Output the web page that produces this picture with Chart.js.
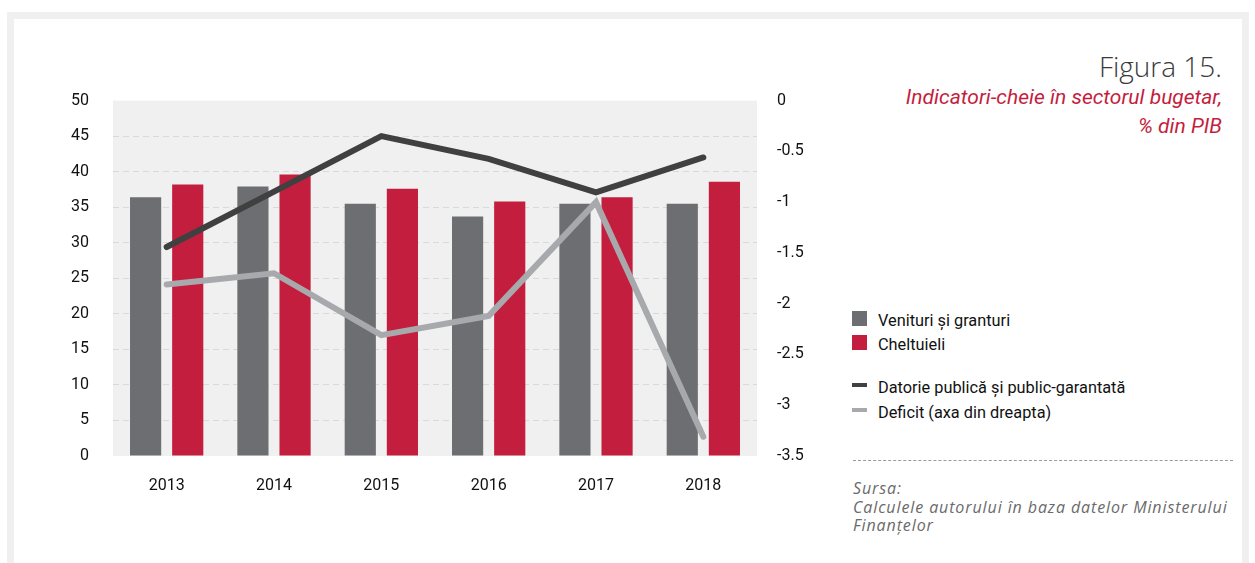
<!DOCTYPE html>
<html>
<head>
<meta charset="utf-8">
<script src="https://cdn.jsdelivr.net/npm/chart.js@4.4.1/dist/chart.umd.min.js"></script>
<style>
  body { margin: 0; width: 1255px; height: 563px; overflow: hidden; background: #fff; position: relative; font-family: Roboto, sans-serif; }
  .frame { position: absolute; left: 7px; top: 12px; width: 1228px; height: 560px; border: 7px solid #f0f0f0; }
  #wrap { position: absolute; left: 40px; top: 67px; width: 780px; height: 439px; }
  .title { position: absolute; right: 33px; top: 48px; font-family: "Open Sans", sans-serif; font-weight: 300; font-size: 28px; color: #3a3a3a; line-height: 36px; }
  .sub { position: absolute; right: 33px; top: 83px; font-style: italic; font-size: 21px; line-height: 29px; color: #c41e3e; text-align: right; white-space: nowrap; }
  .legend { position: absolute; left: 852px; top: 310px; font-size: 17px; color: #111; }
  .item { position: absolute; left: 0; height: 18px; white-space: nowrap; }
  .item span { position: absolute; left: 26px; top: 0px; transform: scaleX(0.96); transform-origin: left center; }
  .sq { position: absolute; left: 0; top: 1px; width: 15px; height: 15px; }
  .ln { position: absolute; left: 0; top: 6px; width: 15px; height: 4px; }
  .dash { position: absolute; left: 853px; top: 460px; width: 380px; border-top: 1px dashed #9a9a9a; }
  .src { position: absolute; left: 853px; top: 479px; font-family: "Open Sans", sans-serif; font-style: italic; font-size: 16px; letter-spacing: 0.9px; line-height: 18.5px; color: #6a6a6a; white-space: nowrap; }
</style>
</head>
<body>
<div class="frame"></div>
<div class="title">Figura 15.</div>
<div class="sub">Indicatori-cheie în sectorul bugetar,<br>% din PIB</div>
<div id="wrap"><canvas id="chart"></canvas></div>
<div class="legend" id="legend"></div>
<div class="dash"></div>
<div class="src">Sursa:<br>Calculele autorului în baza datelor Ministerului<br>Finanțelor</div>
<script>
// DATA
const years = ["2013", "2014", "2015", "2016", "2017", "2018"];
const venituri = [36.4, 37.9, 35.5, 33.7, 35.5, 35.5];
const cheltuieli = [38.2, 39.6, 37.6, 35.8, 36.4, 38.6];
const datorie = [29.4, 37.2, 45.0, 41.8, 37.1, 42.0];
const deficit = [-1.81, -1.70, -2.31, -2.12, -1.00, -3.31];

const colGray = "#6d6e71";
const colRed = "#c41e3e";
const colDark = "#404041";
const colLight = "#a7a9ac";

// plot background
const plotBg = {
  id: "plotBg",
  beforeDraw(chart) {
    const a = chart.chartArea;
    const ctx = chart.ctx;
    ctx.save();
    ctx.fillStyle = "#f0f0f0";
    ctx.fillRect(a.left, a.top, a.right - a.left, a.bottom - a.top);
    ctx.restore();
  }
};

const tickFont = { family: "Roboto", size: 16 };

new Chart(document.getElementById("chart"), {
  type: "bar",
  data: {
    labels: years,
    datasets: [
      {
        type: "line",
        label: "Datorie publică și public-garantată",
        data: datorie,
        yAxisID: "y",
        borderColor: colDark,
        borderWidth: 6,
        borderCapStyle: "round",
        borderJoinStyle: "miter",
        pointRadius: 0,
        tension: 0,
        order: 0
      },
      {
        type: "line",
        label: "Deficit (axa din dreapta)",
        data: deficit,
        yAxisID: "y2",
        borderColor: colLight,
        borderWidth: 6,
        borderCapStyle: "round",
        borderJoinStyle: "miter",
        pointRadius: 0,
        tension: 0,
        order: 0
      },
      {
        label: "Venituri și granturi",
        data: venituri,
        yAxisID: "y",
        backgroundColor: colGray,
        categoryPercentage: 0.785,
        barPercentage: 0.74,
        order: 1
      },
      {
        label: "Cheltuieli",
        data: cheltuieli,
        yAxisID: "y",
        backgroundColor: colRed,
        categoryPercentage: 0.785,
        barPercentage: 0.74,
        order: 1
      }
    ]
  },
  options: {
    responsive: true,
    maintainAspectRatio: false,
    animation: false,
    layout: { padding: { top: 10, bottom: 0, left: 0, right: 0 } },
    plugins: {
      legend: { display: false },
      tooltip: { enabled: false }
    },
    scales: {
      x: {
        grid: { display: false },
        border: { display: false },
        ticks: { color: "#111", font: tickFont, padding: 12 },
        afterFit(scale) { scale.height = 50; }
      },
      y: {
        position: "left",
        min: 0,
        max: 50,
        grid: {
          drawTicks: false,
          color: (c) => (c.tick.value === 0 || c.tick.value === 50) ? "rgba(0,0,0,0)" : "#d9d9d9",
          lineWidth: 1
        },
        border: { display: false, dash: [6, 4] },
        ticks: { stepSize: 5, color: "#111", font: tickFont, padding: 24 },
        afterFit(scale) { scale.width = 73; }
      },
      y2: {
        position: "right",
        min: -3.5,
        max: 0,
        grid: { display: false, drawTicks: false },
        border: { display: false },
        ticks: {
          stepSize: 0.5,
          color: "#111",
          font: tickFont,
          padding: 20,
          callback: (v) => String(Math.round(v * 10) / 10)
        },
        afterFit(scale) { scale.width = 63; }
      }
    }
  },
  plugins: [plotBg]
});

// HTML legend
const legendItems = [
  { label: "Venituri și granturi", color: colGray, kind: "sq", top: 0 },
  { label: "Cheltuieli", color: colRed, kind: "sq", top: 24 },
  { label: "Datorie publică și public-garantată", color: colDark, kind: "ln", top: 67 },
  { label: "Deficit (axa din dreapta)", color: colLight, kind: "ln", top: 92 }
];
const legendEl = document.getElementById("legend");
legendItems.forEach(it => {
  const d = document.createElement("div");
  d.className = "item";
  d.style.top = it.top + "px";
  d.innerHTML = '<div class="' + it.kind + '" style="background:' + it.color + '"></div><span>' + it.label + '</span>';
  legendEl.appendChild(d);
});
</script>
</body>
</html>
